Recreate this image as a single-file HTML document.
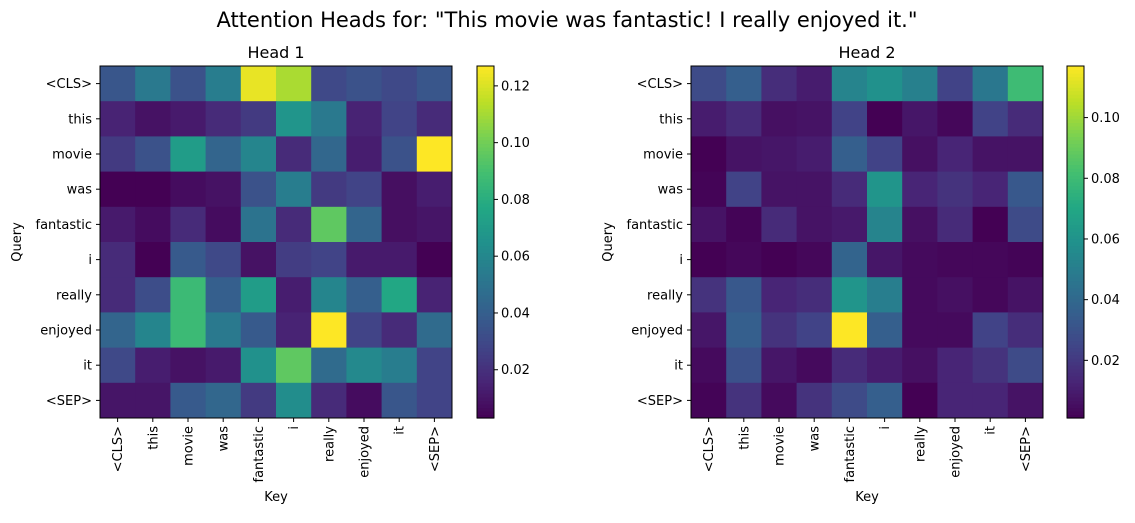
<!DOCTYPE html>
<html><head><meta charset="utf-8"><style>
body{margin:0;background:#fff;}
svg text{font-family:"DejaVu Sans","Liberation Sans",sans-serif;fill:#000;}
</style></head><body>
<svg id="chart" width="1135" height="518" xmlns="http://www.w3.org/2000/svg">
<text x="567" y="27" font-size="21" text-anchor="middle">Attention Heads for: "This movie was fantastic! I really enjoyed it."</text>
</svg>
<script>
const tokens = ["<CLS>","this","movie","was","fantastic","i","really","enjoyed","it","<SEP>"];
const head1 = [
[0.036,0.053,0.034,0.055,0.123,0.111,0.030,0.034,0.030,0.036],
[0.015,0.009,0.012,0.018,0.024,0.067,0.053,0.015,0.028,0.018],
[0.024,0.034,0.071,0.043,0.059,0.018,0.044,0.013,0.034,0.127],
[0.003,0.003,0.007,0.009,0.034,0.055,0.024,0.028,0.008,0.013],
[0.012,0.007,0.018,0.007,0.050,0.018,0.096,0.043,0.008,0.010],
[0.018,0.003,0.038,0.030,0.009,0.025,0.028,0.012,0.012,0.003],
[0.018,0.032,0.087,0.040,0.071,0.013,0.059,0.040,0.077,0.015],
[0.043,0.059,0.087,0.053,0.038,0.015,0.127,0.028,0.018,0.046],
[0.030,0.013,0.009,0.012,0.065,0.096,0.046,0.061,0.055,0.028],
[0.010,0.010,0.038,0.044,0.024,0.063,0.018,0.007,0.036,0.028]];
const head2 = [
[0.027,0.036,0.016,0.010,0.053,0.059,0.051,0.024,0.047,0.080],
[0.010,0.015,0.006,0.007,0.024,0.001,0.008,0.003,0.024,0.015],
[0.001,0.007,0.008,0.010,0.036,0.024,0.006,0.013,0.007,0.007],
[0.002,0.024,0.007,0.007,0.015,0.061,0.013,0.018,0.013,0.033],
[0.007,0.002,0.015,0.007,0.009,0.053,0.006,0.015,0.001,0.027],
[0.001,0.003,0.001,0.003,0.038,0.008,0.004,0.003,0.003,0.002],
[0.018,0.033,0.013,0.016,0.061,0.050,0.004,0.006,0.003,0.007],
[0.008,0.036,0.018,0.024,0.117,0.036,0.004,0.004,0.024,0.016],
[0.004,0.030,0.008,0.004,0.015,0.010,0.006,0.013,0.018,0.027],
[0.002,0.018,0.004,0.018,0.027,0.036,0.001,0.013,0.013,0.007]];
const cbTicks1 = [0.02,0.04,0.06,0.08,0.10,0.12];
const cbTicks2 = [0.02,0.04,0.06,0.08,0.10];

const VIR=["#440154","#482475","#414487","#355f8d","#2a788e","#21918c","#22a884","#44bf70","#7ad151","#bddf26","#fde725"];
function hex(h){return [1,3,5].map(i=>parseInt(h.substr(i,2),16));}
function viridis(t){t=Math.max(0,Math.min(1,t));const f=t*10,i=Math.min(9,Math.floor(f)),u=f-i;
 const a=hex(VIR[i]),b=hex(VIR[i+1]);return "rgb("+a.map((v,k)=>Math.round(v+(b[k]-v)*u)).join(",")+")";}
const NS="http://www.w3.org/2000/svg";
const svg=document.getElementById("chart");
function mk(tag,attrs,parent){const e=document.createElementNS(NS,tag);for(const k in attrs)e.setAttribute(k,attrs[k]);(parent||svg).appendChild(e);return e;}

function drawHead(data,x0,cbx,title,ticks,idx){
 const y0=66,W=352,H=352,n=tokens.length,cw=W/n,ch=H/n;
 let mn=Infinity,mx=-Infinity;data.forEach(r=>r.forEach(v=>{mn=Math.min(mn,v);mx=Math.max(mx,v);}));
 const sx=i=>x0+i*cw, sy=j=>y0+j*ch, col=v=>viridis((v-mn)/(mx-mn));
 const g=mk("g",{});
 
 
 data.forEach((row,j)=>row.forEach((v,i)=>{
  const r=mk("rect",{x:sx(i),y:sy(j),width:cw+0.5,height:ch+0.5,fill:col(v)},g);
  
  
 }));
 const fr=mk("rect",{x:x0,y:y0,width:W,height:H,fill:"none",stroke:"#000","stroke-width":1});
 
 
 const t=mk("text",{x:x0+W/2,y:58,"font-size":16,"text-anchor":"middle"});t.textContent=title;
 
 
 tokens.forEach((tk,k)=>{
  const cy=sy(k)+ch/2;
  mk("line",{x1:x0-4,x2:x0,y1:cy,y2:cy,stroke:"#000"});
  const yl=mk("text",{x:x0-8,y:cy+4.5,"font-size":13,"text-anchor":"end"});yl.textContent=tk;
  
  
  const cx=sx(k)+cw/2;
  mk("line",{x1:cx,x2:cx,y1:y0+H,y2:y0+H+4,stroke:"#000"});
  const xl=mk("text",{x:0,y:0,"font-size":13,"text-anchor":"end",transform:`translate(${cx+4.5},${y0+H+8}) rotate(-90)`});xl.textContent=tk;
  
  
 });
 const xt=mk("text",{x:x0+W/2,y:501,"font-size":13,"text-anchor":"middle"});xt.textContent="Key";
 
 
 const yt=mk("text",{x:0,y:0,"font-size":13,"text-anchor":"middle",transform:`translate(${x0-79},${y0+H/2}) rotate(-90)`});yt.textContent="Query";
 
 
 const cw2=17,steps=100;
 const cb=mk("g",{});
 
 
 for(let s=0;s<steps;s++){mk("rect",{x:cbx,y:y0+H-(s+1)*H/steps,width:cw2,height:H/steps+0.6,fill:viridis((s+0.5)/steps)},cb);}
 mk("rect",{x:cbx,y:y0,width:cw2,height:H,fill:"none",stroke:"#000"},cb);
 const cyv=v=>y0+H-(v-mn)/(mx-mn)*H;
 ticks.forEach(v=>{const yy=cyv(v);
  mk("line",{x1:cbx+cw2,x2:cbx+cw2+4,y1:yy,y2:yy,stroke:"#000"},cb);
  const tl=mk("text",{x:cbx+cw2+7,y:yy+4.5,"font-size":13},cb);tl.textContent=v.toFixed(2);
  
  
 });
}
drawHead(head1,100,477,"Head 1",cbTicks1,1);
drawHead(head2,691,1067,"Head 2",cbTicks2,2);
</script>
</body></html>
